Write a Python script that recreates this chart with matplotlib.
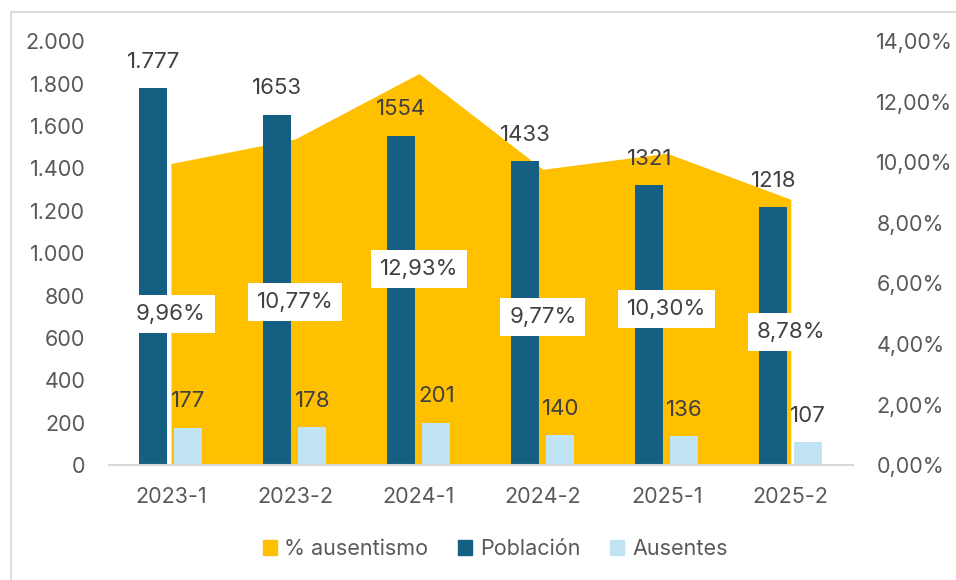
import matplotlib
matplotlib.use("Agg")
import matplotlib.pyplot as plt
from matplotlib.patches import Rectangle, Patch
from matplotlib.ticker import FuncFormatter, MultipleLocator
import numpy as np

plt.rcParams['font.family'] = ['Inter', 'DejaVu Sans']

periodos = ["2023-1", "2023-2", "2024-1", "2024-2", "2025-1", "2025-2"]
poblacion = [1777, 1653, 1554, 1433, 1321, 1218]
poblacion_txt = ["1.777", "1653", "1554", "1433", "1321", "1218"]
ausentes = [177, 178, 201, 140, 136, 107]
pct_ausentismo = [9.96, 10.77, 12.93, 9.77, 10.30, 8.78]

c_area = "#FFC000"
c_pob = "#156082"
c_aus = "#C1E4F5"
c_txt = "#404040"
c_tick = "#595959"

fig = plt.figure(figsize=(9.56, 5.8), dpi=100)
ax = fig.add_axes([0.114, 0.198, 0.778, 0.731])
ax2 = ax.twinx()
ax.set_zorder(2)
ax2.set_zorder(1)
ax.patch.set_visible(False)

x = np.arange(len(periodos))

# area (% ausentismo) on the right scale, behind the bars
ax2.fill_between(x, pct_ausentismo, 0, color=c_area, lw=0)
ax2.set_ylim(0, 14)
ax2.yaxis.set_major_locator(MultipleLocator(2))
ax2.yaxis.set_major_formatter(FuncFormatter(lambda v, p: f"{v:.2f}%".replace(".", ",")))

w = 0.226
off = 0.141
b1 = ax.bar(x - off, poblacion, w, color=c_pob)
b2 = ax.bar(x + off, ausentes, w, color=c_aus)
ax.set_ylim(0, 2000)
ax.set_xlim(-0.5, len(periodos) - 0.5)
ax.yaxis.set_major_locator(MultipleLocator(200))
ax.yaxis.set_major_formatter(FuncFormatter(lambda v, p: f"{int(v):,}".replace(",", ".")))
ax.set_xticks(x)
ax.set_xticklabels(periodos)

for a in (ax, ax2):
    for s in a.spines.values():
        s.set_visible(False)
    a.tick_params(length=0, labelsize=15.5, colors=c_tick)
ax.spines['bottom'].set_visible(True)
ax.spines['bottom'].set_color("#D9D9D9")
ax.spines['bottom'].set_linewidth(1.5)
ax.tick_params(axis='y', pad=17)
ax.tick_params(axis='x', pad=16)
ax2.tick_params(axis='y', pad=17)

for xi, v, t in zip(x, poblacion, poblacion_txt):
    ax.annotate(t, (xi - off, v), xytext=(0, 19), textcoords="offset points",
                ha="center", va="center", fontsize=16, color=c_txt)
for xi, v in zip(x, ausentes):
    ax.annotate(str(v), (xi + off, v), xytext=(0, 19), textcoords="offset points",
                ha="center", va="center", fontsize=16, color=c_txt)
for xi, v in zip(x, pct_ausentismo):
    ax.annotate(f"{v:.2f}%".replace(".", ","), (xi, v / 2), xycoords=ax2.transData,
                ha="center", va="center", fontsize=16, color=c_txt,
                bbox=dict(boxstyle="square,pad=0.4", fc="white", ec="none"))

handles = [Patch(color=c_area), Patch(color=c_pob), Patch(color=c_aus)]
fig.legend(handles, ["% ausentismo", "Población", "Ausentes"], loc="center",
           bbox_to_anchor=(495 / 956, 1 - 549 / 580), ncol=3, frameon=False,
           fontsize=15.5, labelcolor=c_tick, handlelength=0.65, handleheight=0.65,
           handletextpad=0.35, columnspacing=1.4)

fig.add_artist(Rectangle((11 / 956, -0.1), 1.2, 1.1 - 12 / 580, transform=fig.transFigure,
                         fill=False, ec="#D9D9D9", lw=1.3))

fig.savefig("out.png", dpi=100)
